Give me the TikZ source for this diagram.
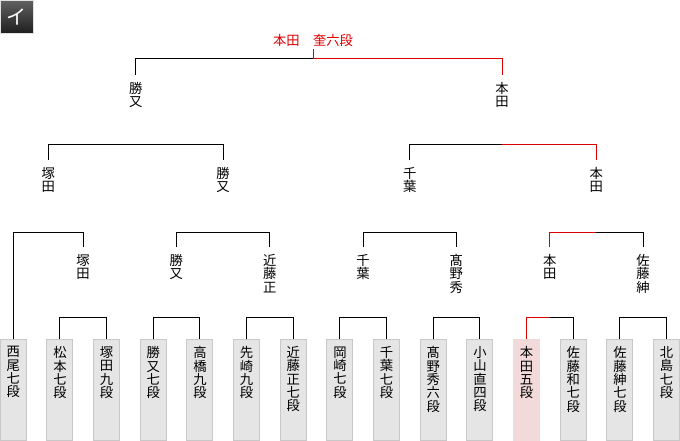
\documentclass[tikz,border=0pt]{standalone}
\usepackage{fontspec}
\usepackage{xcolor}
\usepackage{tikz}
\usetikzlibrary{positioning,calc}
\newfontfamily\jpfont{Noto Sans CJK JP}
\definecolor{boxfill}{RGB}{229,229,229}
\definecolor{boxline}{RGB}{200,200,200}
\definecolor{winfill}{RGB}{243,218,218}
\definecolor{winred}{RGB}{220,0,0}
\tikzset{
  playerbox/.style={rectangle, draw=boxline, fill=boxfill, line width=0.75pt,
                    anchor=north, minimum width=19.5pt, minimum height=75.5pt,
                    inner sep=0pt},
  playerboxwin/.style={playerbox, draw=winfill, fill=winfill},
  namelbl/.style={anchor=north, align=center, inner xsep=0pt, inner ysep=5.2pt,
                  font=\jpfont\fontsize{10pt}{10pt}\selectfont},
  champlbl/.style={namelbl, anchor=south, inner ysep=1.5pt, text=winred},
  bline/.style={line width=0.75pt, color=black},
  winline/.style={bline, color=winred},
  tabbox/.style={rectangle, minimum size=24.75pt, inner sep=0pt,
                 top color=black!62, bottom color=black!88,
                 draw=black!12, line width=0.75pt, text=white,
                 font=\jpfont\fontsize{15pt}{15pt}\selectfont},
}
\begin{document}
\begin{tikzpicture}[x=0.75pt, y=-0.75pt]
  \useasboundingbox (0,0) rectangle (680,440);
  \node[tabbox] (tab) at (16.5,16.5) {イ};

  % first round boxes
  \foreach \i/\st/\nm in {0/playerbox/{西\\尾\\七\\段}, 1/playerbox/{松\\本\\七\\段},
      2/playerbox/{塚\\田\\九\\段}, 3/playerbox/{勝\\又\\七\\段},
      4/playerbox/{高\\橋\\九\\段}, 5/playerbox/{先\\崎\\九\\段},
      6/playerbox/{近\\藤\\正\\七\\段}, 7/playerbox/{岡\\崎\\七\\段},
      8/playerbox/{千\\葉\\七\\段}, 9/playerbox/{髙\\野\\秀\\六\\段},
      10/playerbox/{小\\山\\直\\四\\段}, 11/playerboxwin/{本\\田\\五\\段},
      12/playerbox/{佐\\藤\\和\\七\\段}, 13/playerbox/{佐\\藤\\紳\\七\\段},
      14/playerbox/{北\\島\\七\\段}}{
    \node[\st] (p\i) at ({46.667*\i+13.3},339.3) {};
    \node[namelbl] (n\i) at (p\i.north) {\nm};
  }

  % winners
  \node[namelbl] (q1) at (83,247) {塚\\田};
  \node[namelbl] (q2) at (176.3,247) {勝\\又};
  \node[namelbl] (q3) at (269.7,247) {近\\藤\\正};
  \node[namelbl] (q4) at (363,247) {千\\葉};
  \node[namelbl] (q5) at (456.3,247) {髙\\野\\秀};
  \node[namelbl] (q6) at (549.7,247) {本\\田};
  \node[namelbl] (q7) at (643,247) {佐\\藤\\紳};
  \node[namelbl] (r1) at (48.3,160) {塚\\田};
  \node[namelbl] (r2) at (223,160) {勝\\又};
  \node[namelbl] (r3) at (409.7,160) {千\\葉};
  \node[namelbl] (r4) at (596.3,160) {本\\田};
  \node[namelbl] (s1) at (135.7,75) {勝\\又};
  \node[namelbl] (s2) at (502,75) {本\\田};
  \node[champlbl] (champ) at (313,49.3) {本田　奎六段};

  % bracket joints
  \coordinate (a1) at (83,317.3);
  \coordinate (a2) at (176.3,317.3);
  \coordinate (a3) at (269.7,317.3);
  \coordinate (a4) at (363,317.3);
  \coordinate (a5) at (456.3,317.3);
  \coordinate (a6) at (549.7,317.3);
  \coordinate (a7) at (643,317.3);
  \coordinate (b1) at (48.3,232.7);
  \coordinate (b2) at (223,232.7);
  \coordinate (b3) at (409.7,232.7);
  \coordinate (b4) at (596.3,232.7);
  \coordinate (c1) at (135.7,144.3);
  \coordinate (c2) at (502,144.3);
  \coordinate (d) at (313,58.3);

  \foreach \j/\l/\r in {a1/p1/p2, a2/p3/p4, a3/p5/p6, a4/p7/p8, a5/p9/p10, a7/p13/p14,
      b1/p0/q1, b2/q2/q3, b3/q4/q5, c1/r1/r2}{
    \draw[bline] (\l.north) |- (\j) -| (\r.north);
  }
  \draw[winline] (p11.north) |- (a6);
  \draw[bline] (a6) -| (p12.north);
  \draw[winline] (q6.north) |- (b4);
  \draw[bline] (b4) -| (q7.north);
  \draw[bline] (r3.north) |- (c2);
  \draw[winline] (c2) -| (r4.north);
  \draw[bline] (s1.north) |- (d);
  \draw[winline] (champ.south) -- (d) -| (s2.north);
\end{tikzpicture}
\end{document}
